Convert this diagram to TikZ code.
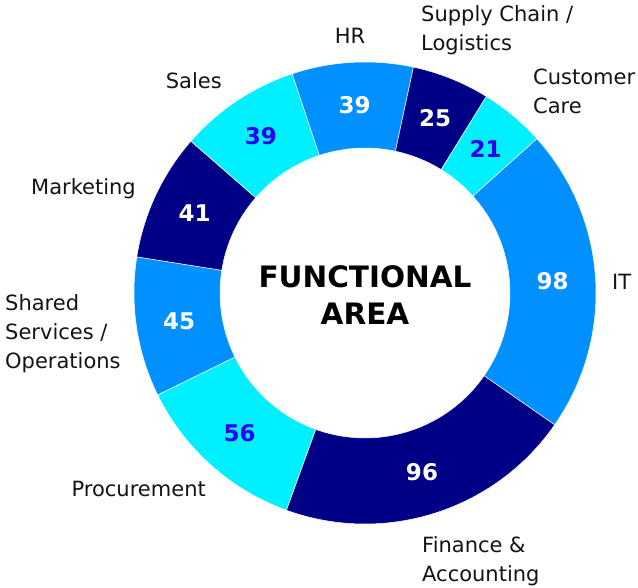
\documentclass[tikz,border=0pt]{standalone}
\usepackage{fontspec}
\setmainfont{DejaVu Sans}
\usetikzlibrary{positioning}
\definecolor{skyblue}{RGB}{0,144,255}
\definecolor{navyblue}{RGB}{0,0,135}
\definecolor{aqua}{RGB}{0,240,255}
\definecolor{numblue}{RGB}{45,0,245}

\begin{document}
\begin{tikzpicture}[x=1pt,y=1pt,
    seg/.style={
% The border between the parts:
draw=white, line width=0.5pt,
},
    num/.style={
% The text:
font=\fontsize{23}{23}\selectfont\bfseries, text=white,
},
    numdark/.style={num, text=numblue},
    lbl/.style={
% The text:
font=\fontsize{21}{29}\selectfont, text=black!92,
% The size:
inner sep=0pt,
},
    title/.style={
font=\fontsize{29.5}{37}\selectfont\bfseries, align=center,
},
]
  \useasboundingbox (0,0) rectangle (638,588);
  \fill[white] (0,0) rectangle (638,588);

  \begin{scope}[shift={(365,295)}]
  % the ring, clockwise from HR
  \filldraw[seg, fill=skyblue] (77.9:145) -- (77.9:231) arc[start angle=77.9, end angle=108.4, radius=231] -- (108.4:145) arc[start angle=108.4, end angle=77.9, radius=145] -- cycle;
  \filldraw[seg, fill=navyblue] (58.3:145) -- (58.3:231) arc[start angle=58.3, end angle=77.9, radius=231] -- (77.9:145) arc[start angle=77.9, end angle=58.3, radius=145] -- cycle;
  \filldraw[seg, fill=aqua] (41.9:145) -- (41.9:231) arc[start angle=41.9, end angle=58.3, radius=231] -- (58.3:145) arc[start angle=58.3, end angle=41.9, radius=145] -- cycle;
  \filldraw[seg, fill=skyblue] (-34.8:145) -- (-34.8:231) arc[start angle=-34.8, end angle=41.9, radius=231] -- (41.9:145) arc[start angle=41.9, end angle=-34.8, radius=145] -- cycle;
  \filldraw[seg, fill=navyblue] (-109.9:145) -- (-109.9:231) arc[start angle=-109.9, end angle=-34.8, radius=231] -- (-34.8:145) arc[start angle=-34.8, end angle=-109.9, radius=145] -- cycle;
  \filldraw[seg, fill=aqua] (-153.8:145) -- (-153.8:231) arc[start angle=-153.8, end angle=-109.9, radius=231] -- (-109.9:145) arc[start angle=-109.9, end angle=-153.8, radius=145] -- cycle;
  \filldraw[seg, fill=skyblue] (171.0:145) -- (171.0:231) arc[start angle=171.0, end angle=206.2, radius=231] -- (206.2:145) arc[start angle=206.2, end angle=171.0, radius=145] -- cycle;
  \filldraw[seg, fill=navyblue] (138.9:145) -- (138.9:231) arc[start angle=138.9, end angle=171.0, radius=231] -- (171.0:145) arc[start angle=171.0, end angle=138.9, radius=145] -- cycle;
  \filldraw[seg, fill=aqua] (108.4:145) -- (108.4:231) arc[start angle=108.4, end angle=138.9, radius=231] -- (138.9:145) arc[start angle=138.9, end angle=108.4, radius=145] -- cycle;

  % the counts
  \node[num]     (hr)   at (93.15:188)  {39};
  \node[num]     (scl)  at (68.1:188)   {25};
  \node[numdark] (cc)   at (50.1:188)   {21};
  \node[num]     (it)   at (3.55:188)   {98};
  \node[num]     (fa)   at (-72.35:188) {96};
  \node[numdark] (proc) at (-131.85:188) {56};
  \node[num]     (sso)  at (188.6:188)  {45};
  \node[num]     (mkt)  at (154.95:188) {41};
  \node[numdark] (sal)  at (123.65:188) {39};

  \node[title] (area) at (0,-2.5) {FUNCTIONAL\\AREA};
  \end{scope}

  % the names round the ring
  \node[lbl, anchor=base]       (hrname)   at (350,544) {HR};
  \node[lbl, anchor=base east]  (salname)  at (222,499) {Sales};
  \node[lbl, anchor=base east]  (mktname)  at (136,393) {Marketing};
  \node[lbl, anchor=base east]  (procname) at (206,91)  {Procurement};
  \node[lbl, anchor=base west]  (itname)   at (612,298) {IT};
  \node[lbl, anchor=north west, align=left] (sclname) at (421,583) {Supply Chain /\\Logistics};
  \node[lbl, anchor=north west, align=left] (ccname)  at (533,519) {Customer\\Care};
  \node[lbl, anchor=north west, align=left] (ssoname) at (5,294)   {Shared\\Services /\\Operations};
  \node[lbl, anchor=north west, align=left] (faname)  at (422,52)  {Finance \&\\Accounting};
\end{tikzpicture}
\end{document}
